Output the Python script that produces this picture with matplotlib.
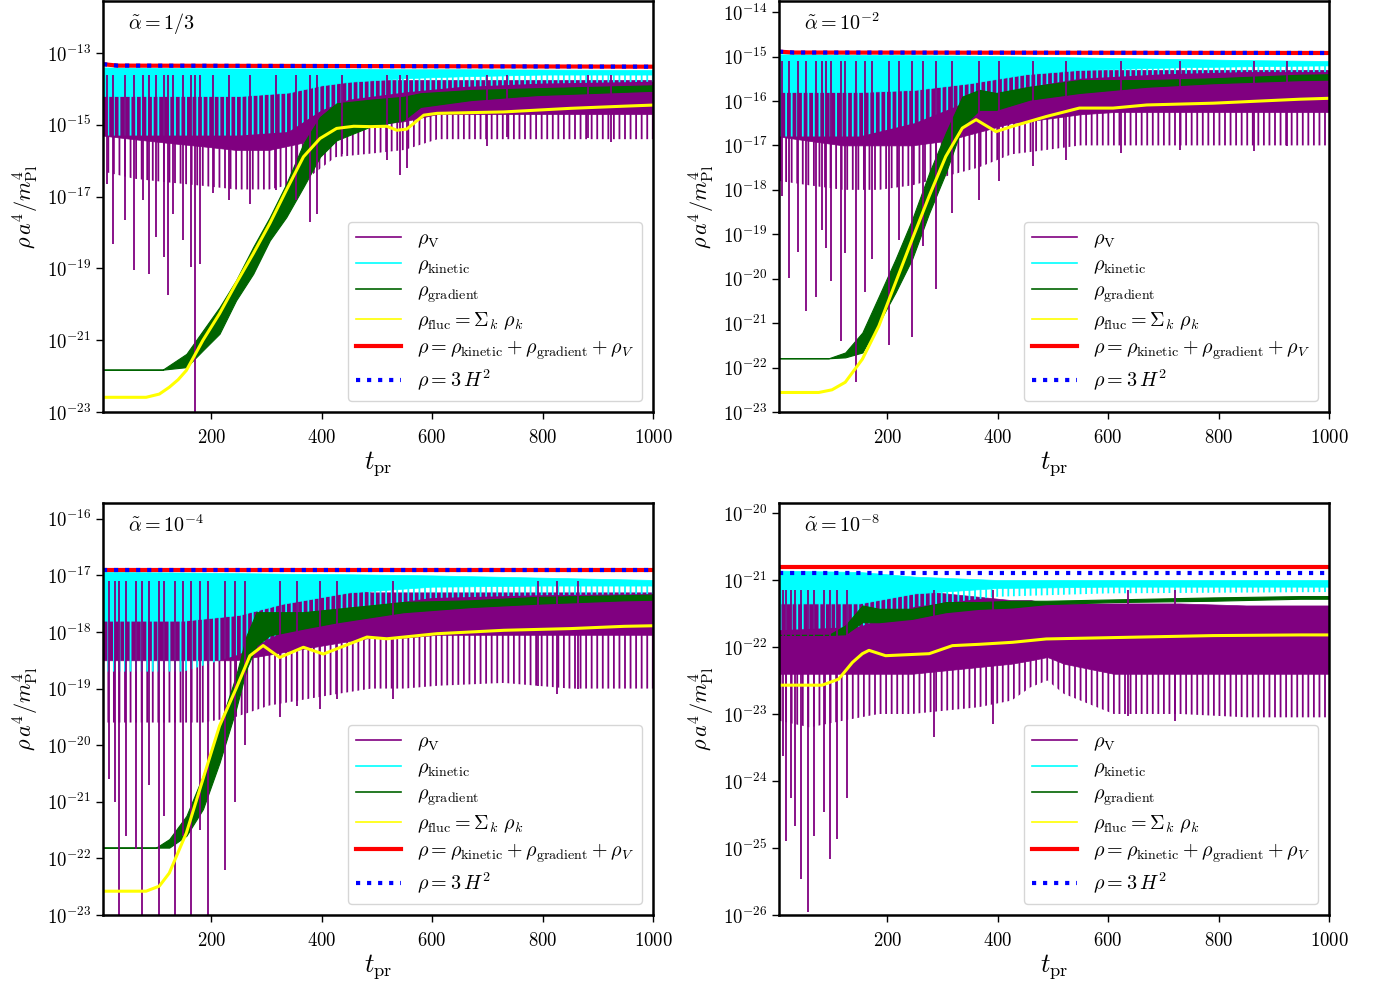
import matplotlib
matplotlib.use('Agg')
import matplotlib.pyplot as plt
from matplotlib.lines import Line2D
from matplotlib.ticker import FixedLocator, NullLocator
import numpy as np

plt.rcParams['mathtext.fontset'] = 'cm'
plt.rcParams['font.family'] = 'serif'
plt.rcParams['font.serif'] = ['cmr10']
plt.rcParams['axes.formatter.use_mathtext'] = True
plt.rcParams['hatch.linewidth'] = 1.3

# all values are log10(rho a^4 / m_Pl^4)
# *_hi = top of the oscillation, *_core = bottom of the dense part, *_lo = typical spike tips

# ---- panel a : alpha = 1/3
tot_t_a = [4, 30, 1000]
tot_a = [-13.31, -13.35, -13.38]
hub_a = [-13.31, -13.35, -13.38]
kin_t_a = [4, 150, 250, 340, 400, 450, 550, 650, 800, 1000]
kin_hi_a = [-13.40, -13.42, -13.43, -13.43, -13.43, -13.44, -13.45, -13.45, -13.46, -13.47]
kin_core_a = [-14.2, -14.2, -14.2, -14.1, -13.9, -13.8, -13.7, -13.65, -13.6, -13.6]
kin_lo_a = [-15.3, -15.3, -15.3, -15.2, -14.6, -14.3, -14.1, -13.95, -13.85, -13.8]
pot_t_a = [4, 60, 120, 185, 245, 305, 365, 425, 490, 550, 610, 730, 850, 1000]
pot_hi_a = [-13.6, -13.6, -13.6, -13.6, -13.6, -13.6, -13.6, -13.7, -13.75, -13.75, -13.75, -13.75, -13.75, -13.75]
pot_core_a = [-15.3, -15.4, -15.5, -15.6, -15.7, -15.7, -15.5, -15.1, -15.0, -14.9, -14.7, -14.7, -14.7, -14.7]
pot_lo_a = [-16.3, -16.5, -16.6, -16.7, -16.8, -16.8, -16.6, -15.9, -15.8, -15.7, -15.4, -15.4, -15.4, -15.4]
spk_t_a = [12, 22, 43, 61, 76, 87, 100, 114, 121, 130, 148, 164, 171.5, 179, 203, 233, 270,
           318, 354, 379, 391, 436, 518, 542, 554, 700, 736, 882, 924]
spk_a = [-16.64, -18.31, -17.66, -19.05, -17.1, -19.15, -18.12, -18.68, -19.75, -17.47, -18.2,
         -18.96, -23.2, -18.87, -16.9, -17.1, -17.2, -16.82, -17.1, -17.7, -17.47, -15.8, -15.98,
         -16.4, -16.2, -15.6, -15.33, -15.38, -15.47]
grad_t_a = [4, 112, 155, 185, 215, 245, 276, 306, 336, 367, 397, 427, 488, 548, 579, 670, 790, 948, 1000]
grad_hi_a = [-21.82, -21.82, -21.38, -20.73, -20.08, -19.33, -18.4, -17.57, -16.64, -15.52, -14.78,
             -14.4, -14.3, -14.22, -14.12, -14.03, -13.98, -13.92, -13.9]
grad_lo_a = [-21.82, -21.82, -21.75, -21.28, -20.82, -19.89, -19.15, -18.22, -17.57, -16.73, -15.89,
             -15.43, -15.05, -14.87, -14.5, -14.31, -14.17, -14.08, -14.05]
fluc_t_a = [4, 82, 106, 124, 140, 155, 185, 215, 245, 276, 306, 336, 367, 397, 427, 458, 488, 518,
            536, 554, 585, 609, 730, 851, 948, 1000]
fluc_a = [-22.59, -22.59, -22.5, -22.31, -22.1, -21.84, -21.0, -20.26, -19.42, -18.59, -17.75, -16.82,
          -15.89, -15.38, -15.1, -15.04, -15.05, -15.04, -15.15, -15.12, -14.73, -14.68, -14.64,
          -14.54, -14.48, -14.45]

# ---- panel b : alpha = 1e-2
tot_t_b = [4, 30, 1000]
tot_b = [-14.89, -14.91, -14.92]
hub_b = [-14.89, -14.91, -14.92]
kin_t_b = [4, 150, 250, 350, 450, 550, 700, 850, 1000]
kin_hi_b = [-14.95, -14.96, -14.97, -14.98, -15.0, -15.02, -15.05, -15.08, -15.1]
kin_core_b = [-15.8, -15.8, -15.75, -15.6, -15.4, -15.3, -15.25, -15.22, -15.2]
kin_lo_b = [-16.8, -16.8, -16.5, -16.0, -15.7, -15.5, -15.4, -15.35, -15.35]
pot_t_b = [4, 60, 120, 185, 245, 305, 365, 425, 490, 550, 610, 730, 850, 1000]
pot_hi_b = [-15.1, -15.1, -15.1, -15.1, -15.1, -15.1, -15.1, -15.2, -15.3, -15.3, -15.3, -15.3, -15.3, -15.3]
pot_core_b = [-16.8, -16.9, -17.0, -17.0, -17.0, -16.9, -16.7, -16.5, -16.4, -16.3, -16.25, -16.25, -16.25, -16.25]
pot_lo_b = [-17.8, -17.9, -18.0, -18.0, -17.9, -17.7, -17.5, -17.2, -17.1, -17.0, -17.0, -17.0, -17.0, -17.0]
spk_t_b = [9, 23, 39, 53.3, 71.5, 82, 90, 98, 116, 124, 143.6, 160.6, 173, 203, 221, 245.5, 264,
           288, 318, 367, 403, 464, 524, 624, 730, 864, 924]
spk_b = [-18.14, -19.98, -19.4, -20.72, -20.42, -18.9, -19.3, -20.05, -21.4, -19.42, -22.33, -20.3,
         -19.56, -21.5, -19.12, -21.32, -19.27, -20.24, -18.52, -18.22, -17.8, -17.47, -17.32,
         -17.17, -17.1, -17.13, -17.02]
grad_t_b = [4, 94, 124, 155, 185, 215, 245, 276, 306, 336, 367, 397, 458, 548, 670, 790, 948, 1000]
grad_hi_b = [-21.79, -21.79, -21.66, -21.21, -20.39, -19.56, -18.67, -17.62, -16.72, -15.9, -15.75,
             -15.82, -15.68, -15.53, -15.53, -15.49, -15.41, -15.4]
grad_lo_b = [-21.79, -21.79, -21.77, -21.66, -20.99, -20.31, -19.56, -18.52, -17.62, -16.57, -16.2,
             -16.2, -15.97, -15.82, -15.68, -15.6, -15.53, -15.52]
fluc_t_b = [4, 76, 100, 124, 155, 185, 215, 245, 276, 306, 336, 361, 397, 427, 488, 548, 609, 670,
            790, 948, 1000]
fluc_b = [-22.56, -22.56, -22.5, -22.33, -21.81, -21.06, -20.09, -19.12, -18.14, -17.25, -16.61,
          -16.42, -16.69, -16.57, -16.35, -16.16, -16.16, -16.09, -16.05, -15.96, -15.94]

# ---- panel c : alpha = 1e-4
tot_t_c = [4, 30, 1000]
tot_c = [-16.9, -16.9, -16.9]
hub_c = [-16.9, -16.9, -16.9]
kin_t_c = [4, 150, 250, 330, 450, 600, 800, 1000]
kin_hi_c = [-16.94, -16.95, -16.96, -16.97, -16.98, -17.0, -17.04, -17.08]
kin_core_c = [-17.8, -17.8, -17.7, -17.5, -17.3, -17.2, -17.18, -17.18]
kin_lo_c = [-18.7, -18.7, -18.4, -18.0, -17.6, -17.4, -17.35, -17.33]
pot_t_c = [4, 60, 120, 185, 245, 305, 365, 425, 490, 550, 610, 730, 850, 1000]
pot_hi_c = [-17.1, -17.1, -17.1, -17.1, -17.1, -17.1, -17.1, -17.2, -17.3, -17.3, -17.3, -17.3, -17.3, -17.3]
pot_core_c = [-18.5, -18.5, -18.5, -18.5, -18.5, -18.4, -18.3, -18.2, -18.1, -18.1, -18.05, -18.05, -18.05, -18.05]
pot_lo_c = [-19.6, -19.6, -19.6, -19.6, -19.5, -19.3, -19.2, -19.1, -19.0, -19.0, -18.95, -18.9, -19.0, -19.0]
spk_t_c = [15.2, 25.5, 33.4, 45.5, 63.6, 74.6, 87.9, 104.9, 115.2, 135.2, 148.5, 164.2, 178.8,
           194, 224.2, 242.4, 260.6, 324.2, 354.5, 397, 427, 530, 791, 827, 864]
spk_c = [-20.6, -21.01, -23.1, -21.6, -21.84, -23.1, -20.7, -23.1, -21.25, -23.1, -21.6, -23.1,
         -21.49, -23.1, -22.2, -21.0, -20.0, -19.5, -19.3, -19.36, -19.18, -19.18, -18.95, -19.1, -19.0]
grad_t_c = [4, 100, 124, 155, 185, 215, 245, 264, 282, 306, 367, 427, 548, 670, 790, 948, 1000]
grad_hi_c = [-21.81, -21.81, -21.66, -21.25, -20.54, -19.66, -18.77, -18.06, -17.65, -17.65, -17.65,
             -17.59, -17.47, -17.44, -17.38, -17.35, -17.34]
grad_lo_c = [-21.81, -21.81, -21.81, -21.6, -21.13, -20.31, -19.36, -18.65, -18.24, -18.06, -17.94,
             -17.83, -17.65, -17.56, -17.5, -17.44, -17.43]
fluc_t_c = [4, 82, 106, 124, 155, 185, 215, 245, 270, 294, 324, 367, 403, 482, 518, 609, 730, 851, 948, 1000]
fluc_c = [-22.58, -22.58, -22.49, -22.26, -21.55, -20.6, -19.66, -19.0, -18.42, -18.24, -18.45,
          -18.27, -18.39, -18.09, -18.12, -18.03, -17.97, -17.94, -17.9, -17.89]

# ---- panel d : alpha = 1e-8
tot_t_d = [4, 30, 1000]
tot_d = [-20.8, -20.8, -20.8]
hub_d = [-20.9, -20.9, -20.9]
kin_t_d = [4, 150, 250, 400, 600, 1000]
kin_hi_d = [-20.86, -20.88, -20.95, -21.0, -21.0, -21.0]
kin_core_d = [-21.35, -21.35, -21.2, -21.12, -21.1, -21.1]
kin_lo_d = [-21.75, -21.7, -21.4, -21.25, -21.2, -21.18]
pot_t_d = [4, 60, 120, 185, 245, 305, 365, 425, 460, 490, 520, 610, 730, 850, 1000]
pot_hi_d = [-21.15, -21.15, -21.15, -21.15, -21.15, -21.2, -21.25, -21.3, -21.3, -21.35, -21.35,
            -21.35, -21.35, -21.38, -21.38]
pot_core_d = [-22.4, -22.4, -22.4, -22.4, -22.4, -22.35, -22.3, -22.25, -22.2, -22.15, -22.25,
              -22.4, -22.4, -22.4, -22.4]
pot_lo_d = [-23.1, -23.2, -23.1, -23.0, -23.0, -22.95, -22.9, -22.8, -22.6, -22.5, -22.7,
            -23.0, -23.0, -23.05, -23.05]
spk_t_d = [11, 16.4, 26.1, 33.4, 44.3, 56.4, 66.7, 86, 97, 109, 127, 285, 391, 636, 721]
spk_d = [-23.63, -24.9, -24.25, -24.67, -25.47, -25.95, -24.82, -24.47, -25.17, -24.87, -24.25,
         -23.35, -23.15, -23.03, -23.1]
grad_t_d = [4, 94, 124, 155, 185, 245, 306, 367, 427, 488, 609, 790, 948, 1000]
grad_hi_d = [-21.82, -21.82, -21.68, -21.38, -21.43, -21.43, -21.33, -21.33, -21.31, -21.31, -21.29,
             -21.26, -21.24, -21.24]
grad_lo_d = [-21.82, -21.82, -21.81, -21.63, -21.63, -21.58, -21.48, -21.43, -21.41, -21.36, -21.33,
             -21.31, -21.28, -21.28]
fluc_t_d = [4, 82, 112, 137, 155, 167, 197, 276, 318, 367, 427, 488, 609, 790, 948, 1000]
fluc_d = [-22.57, -22.57, -22.48, -22.23, -22.1, -22.05, -22.13, -22.1, -21.98, -21.96, -21.93,
          -21.88, -21.86, -21.83, -21.82, -21.82]

titles = [r'$\tilde{\alpha} = 1/3$', r'$\tilde{\alpha} = 10^{-2}$',
          r'$\tilde{\alpha} = 10^{-4}$', r'$\tilde{\alpha} = 10^{-8}$']
ylims = [(-23, -11.55), (-23, -13.75), (-23, -15.72), (-26, -19.85)]
yticks = [list(range(-23, -12, 2)), list(range(-23, -13)), list(range(-23, -15)), list(range(-26, -19))]


def p(v):
    return 10.0 ** np.asarray(v, dtype=float)


def osc_band(ax, t, hi, core, lo, color):
    # dense part solid, spike tips drawn as vertical hatching
    ax.fill_between(t, p(lo), p(core), facecolor='none', edgecolor=color, hatch='|||', lw=0)
    ax.fill_between(t, p(core), p(hi), color=color, lw=0.5)


fig = plt.figure(figsize=(13.79, 9.85), dpi=100)
boxes = [(0.0747, 0.5817, 0.3988, 0.4173), (0.5649, 0.5817, 0.3988, 0.4173),
         (0.0747, 0.0711, 0.3988, 0.4183), (0.5649, 0.0711, 0.3988, 0.4183)]

panels = [
    (tot_t_a, tot_a, hub_a, kin_t_a, kin_hi_a, kin_core_a, kin_lo_a, pot_t_a, pot_hi_a, pot_core_a,
     pot_lo_a, spk_t_a, spk_a, grad_t_a, grad_hi_a, grad_lo_a, fluc_t_a, fluc_a),
    (tot_t_b, tot_b, hub_b, kin_t_b, kin_hi_b, kin_core_b, kin_lo_b, pot_t_b, pot_hi_b, pot_core_b,
     pot_lo_b, spk_t_b, spk_b, grad_t_b, grad_hi_b, grad_lo_b, fluc_t_b, fluc_b),
    (tot_t_c, tot_c, hub_c, kin_t_c, kin_hi_c, kin_core_c, kin_lo_c, pot_t_c, pot_hi_c, pot_core_c,
     pot_lo_c, spk_t_c, spk_c, grad_t_c, grad_hi_c, grad_lo_c, fluc_t_c, fluc_c),
    (tot_t_d, tot_d, hub_d, kin_t_d, kin_hi_d, kin_core_d, kin_lo_d, pot_t_d, pot_hi_d, pot_core_d,
     pot_lo_d, spk_t_d, spk_d, grad_t_d, grad_hi_d, grad_lo_d, fluc_t_d, fluc_d),
]

for i, d in enumerate(panels):
    (tt, tot, hub, kt, khi, kco, klo, pt, phi, pco, plo, st, sv, gt, ghi, glo, ft, fv) = d
    ax = fig.add_axes(boxes[i])
    ax.set_yscale('log')

    # rho_V
    osc_band(ax, pt, phi, pco, plo, 'purple')
    ax.vlines(st, p(sv), p(phi[0]), color='purple', lw=1.3)
    # kinetic
    osc_band(ax, kt, khi, kco, klo, 'cyan')
    # gradient
    ax.fill_between(gt, p(glo), p(ghi), color='darkgreen', lw=0.8)
    # fluctuations
    ax.plot(ft, p(fv), color='yellow', lw=2.2)
    # total and Friedmann
    ax.plot(tt, p(tot), color='red', lw=3)
    ax.plot(tt, p(hub), color='blue', lw=3, ls=':')

    ax.set_xlim(4, 1000)
    ax.set_ylim(p(ylims[i][0]), p(ylims[i][1]))
    ax.set_xticks([200, 400, 600, 800, 1000])
    ax.yaxis.set_major_locator(FixedLocator(p(yticks[i])))
    ax.yaxis.set_minor_locator(NullLocator())
    ax.tick_params(direction='out', length=5, width=1, labelsize=13.5)
    ax.tick_params(axis='x', pad=7)
    for s in ax.spines.values():
        s.set_linewidth(1.8)
    ax.set_xlabel(r'$t_{\rm pr}$', fontsize=19, labelpad=2)
    ax.set_ylabel(r'$\rho\, a^4/m_{\rm Pl}^4$', fontsize=16)
    ax.text(0.045, 0.945, titles[i], transform=ax.transAxes, fontsize=14.5, va='center')

    handles = [Line2D([], [], color='purple', lw=1.2),
               Line2D([], [], color='cyan', lw=1.2),
               Line2D([], [], color='darkgreen', lw=1.2),
               Line2D([], [], color='yellow', lw=1.2),
               Line2D([], [], color='red', lw=3),
               Line2D([], [], color='blue', lw=3, ls=':')]
    labels = [r'$\rho_{\rm V}$', r'$\rho_{\rm kinetic}$', r'$\rho_{\rm gradient}$',
              r'$\rho_{\rm fluc} = \Sigma_k\ \rho_k$',
              r'$\rho = \rho_{\rm kinetic} + \rho_{\rm gradient} + \rho_V$',
              r'$\rho = 3\,H^2$']
    ax.legend(handles, labels, loc='lower right', fontsize=14.5, handlelength=2.2,
              handletextpad=0.8, labelspacing=0.3, borderaxespad=0.55)

fig.savefig('out.png', dpi=100)
